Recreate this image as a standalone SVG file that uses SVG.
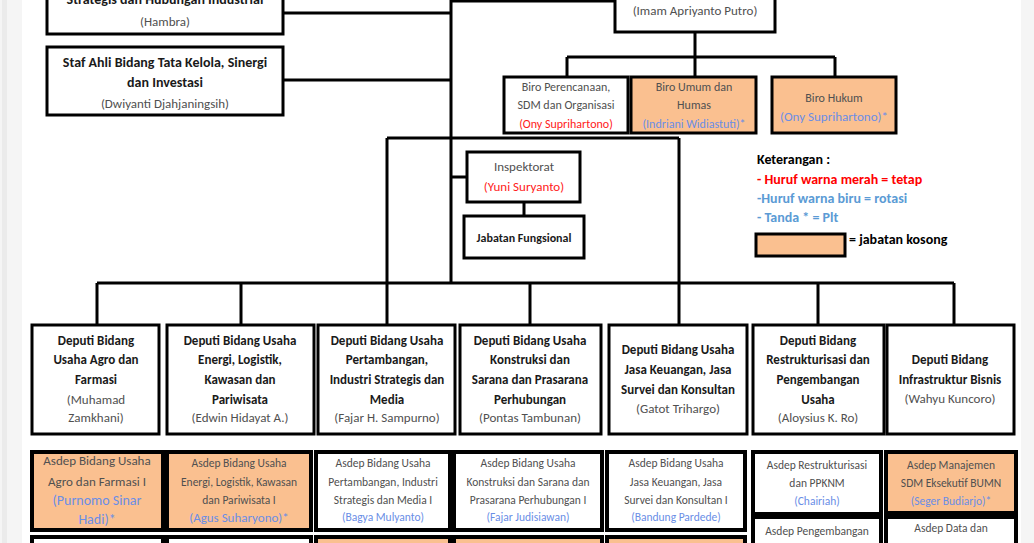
<svg xmlns="http://www.w3.org/2000/svg" width="1034" height="543" viewBox="0 0 1034 543" xml:space="preserve">
<style>
.box{fill:#fff;stroke:#000;stroke-width:3}
.ab{stroke-width:4}
.org{fill:#FAC090}
.t{font-family:Carlito,Lato,"Liberation Sans",sans-serif;text-anchor:middle}
.b{font-weight:bold;fill:#1a1a1a}
.g{fill:#505050}
.r{fill:#ff1a1a}
.u{fill:#6a8ee6}
.s12{font-size:12px}
.s13{font-size:13px}
.s11{font-size:11.5px}
.lg{font-family:Carlito,Lato,"Liberation Sans",sans-serif;font-size:14px;font-weight:bold}
.ln{fill:none;stroke:#000;stroke-width:3}
</style>
<rect x="0" y="0" width="1034" height="543" fill="#fff"/>
<rect x="0" y="0" width="22" height="543" fill="#f5f5f5"/>
<rect x="2" y="0" width="5" height="543" fill="#ebebeb"/>
<rect x="1021" y="0" width="13" height="543" fill="#f5f5f5"/>
<g id="connectors" class="ln">
<path d="M451 0V283M451 1H615M284 13H451M283 80H451"/>
<path d="M695 32V57M567 57H835M567 57V77M695 57V77M835 57V77"/>
<path d="M387 138H679M387 138V325M679 138V325M451 177H467M524 202V216"/>
<path d="M97 283H954M97 283V325M241 283V325M530 283V325M818 283V325M954 283V325"/>
</g>
<g id="staf-ahli-industri">
<rect class="box" x="47" y="-20" width="236" height="54"/>
<text class="t b" x="165" y="4" font-size="14">Strategis  dan Hubungan Industrial</text>
<text class="t g s13" x="165" y="26">(Hambra)</text>
</g>
<g id="staf-ahli-tata-kelola">
<rect class="box" x="47" y="47" width="236" height="68"/>
<text class="t b" x="165" y="67" font-size="14">Staf Ahli Bidang Tata Kelola, Sinergi</text>
<text class="t b" x="165" y="87" font-size="14">dan Investasi</text>
<text class="t g s13" x="165" y="108">(Dwiyanti Djahjaningsih)</text>
</g>
<g id="sekretaris">
<rect class="box" x="615" y="-30" width="160" height="62"/>
<text class="t g s13" x="695" y="15">(Imam Apriyanto Putro)</text>
</g>
<g id="biro-perencanaan">
<rect class="box" x="504" y="77" width="124" height="56"/>
<text class="t g s12" x="566" y="91">Biro Perencanaan,</text>
<text class="t g s12" x="566" y="109">SDM dan Organisasi</text>
<text class="t r s12" x="566" y="128">(Ony Suprihartono)</text>
</g>
<g id="biro-umum">
<rect class="box org" x="631" y="77" width="125" height="56"/>
<text class="t g s12" x="694" y="91">Biro Umum dan</text>
<text class="t g s12" x="694" y="109">Humas</text>
<text class="t u s12" x="694" y="128">(Indriani Widiastuti)*</text>
</g>
<g id="biro-hukum">
<rect class="box org" x="772" y="77" width="124" height="56"/>
<text class="t g s12" x="834" y="102">Biro Hukum</text>
<text class="t u s13" x="834" y="121">(Ony Suprihartono)*</text>
</g>
<g id="inspektorat">
<rect class="box" x="467" y="152" width="113" height="50"/>
<text class="t g s13" x="524" y="171">Inspektorat</text>
<text class="t r s13" x="524" y="191">(Yuni Suryanto)</text>
</g>
<g id="jabatan-fungsional">
<rect class="box" x="464" y="216" width="120" height="42"/>
<text class="t b s12" x="524" y="242">Jabatan Fungsional</text>
</g>
<g id="legend">
<text class="lg" x="757" y="164" fill="#000">Keterangan :</text>
<text class="lg" x="757" y="184" fill="#ff0000">- Huruf warna merah = tetap</text>
<text class="lg" x="757" y="203" fill="#5b9bd5">-Huruf warna biru = rotasi</text>
<text class="lg" x="757" y="222" fill="#5b9bd5">- Tanda * = Plt</text>
<rect class="box org" x="756" y="234" width="89" height="22"/>
<text class="lg" x="849" y="244" fill="#000">= jabatan kosong</text>
</g>
<g id="deputi-agro">
<rect class="box" x="32" y="325" width="127" height="109"/>
<text class="t b s13" x="96" y="345">Deputi Bidang</text>
<text class="t b s13" x="96" y="364">Usaha Agro dan</text>
<text class="t b s13" x="96" y="384">Farmasi</text>
<text class="t g s13" x="96" y="404">(Muhamad</text>
<text class="t g s13" x="96" y="422">Zamkhani)</text>
</g>
<g id="deputi-energi">
<rect class="box" x="167" y="325" width="147" height="109"/>
<text class="t b s13" x="240" y="345">Deputi Bidang Usaha</text>
<text class="t b s13" x="240" y="364">Energi, Logistik,</text>
<text class="t b s13" x="240" y="384">Kawasan dan</text>
<text class="t b s13" x="240" y="404">Pariwisata</text>
<text class="t g s13" x="240" y="422">(Edwin  Hidayat A.)</text>
</g>
<g id="deputi-pertambangan">
<rect class="box" x="318" y="325" width="137" height="109"/>
<text class="t b s13" x="387" y="345">Deputi  Bidang Usaha</text>
<text class="t b s13" x="387" y="364">Pertambangan,</text>
<text class="t b s13" x="387" y="384">Industri Strategis dan</text>
<text class="t b s13" x="387" y="404">Media</text>
<text class="t g s13" x="387" y="422">(Fajar H. Sampurno)</text>
</g>
<g id="deputi-konstruksi">
<rect class="box" x="460" y="325" width="141" height="109"/>
<text class="t b s13" x="530" y="345">Deputi Bidang Usaha</text>
<text class="t b s13" x="530" y="364">Konstruksi dan</text>
<text class="t b s13" x="530" y="384">Sarana dan Prasarana</text>
<text class="t b s13" x="530" y="404">Perhubungan</text>
<text class="t g s13" x="530" y="422">(Pontas  Tambunan)</text>
</g>
<g id="deputi-jasa">
<rect class="box" x="609" y="325" width="138" height="109"/>
<text class="t b s13" x="678" y="354">Deputi Bidang Usaha</text>
<text class="t b s13" x="678" y="374">Jasa Keuangan, Jasa</text>
<text class="t b s13" x="678" y="394">Survei dan Konsultan</text>
<text class="t g s13" x="678" y="413">(Gatot Trihargo)</text>
</g>
<g id="deputi-restrukturisasi">
<rect class="box" x="753" y="325" width="131" height="109"/>
<text class="t b s13" x="818" y="345">Deputi Bidang</text>
<text class="t b s13" x="818" y="364">Restrukturisasi dan</text>
<text class="t b s13" x="818" y="384">Pengembangan</text>
<text class="t b s13" x="818" y="404">Usaha</text>
<text class="t g s13" x="818" y="422">(Aloysius  K. Ro)</text>
</g>
<g id="deputi-infrastruktur">
<rect class="box" x="887" y="325" width="127" height="109"/>
<text class="t b s13" x="950" y="364">Deputi Bidang</text>
<text class="t b s13" x="950" y="384">Infrastruktur Bisnis</text>
<text class="t g s13" x="950" y="403">(Wahyu  Kuncoro)</text>
</g>
<g id="asdep-agro-1">
<rect class="box ab org" x="32" y="452" width="131" height="78"/>
<text class="t g s13" x="97" y="465">Asdep  Bidang Usaha</text>
<text class="t g s13" x="97" y="486">Agro dan Farmasi I</text>
<text class="t u" x="97" y="505" font-size="14">(Purnomo  Sinar</text>
<text class="t u" x="97" y="524" font-size="14">Hadi)*</text>
</g>
<g id="asdep-energi-1">
<rect class="box ab org" x="167" y="452" width="144" height="78"/>
<text class="t g s11" x="239" y="467">Asdep Bidang Usaha</text>
<text class="t g s11" x="239" y="486">Energi, Logistik, Kawasan</text>
<text class="t g s11" x="239" y="504">dan Pariwisata I</text>
<text class="t u s13" x="239" y="522">(Agus Suharyono)*</text>
</g>
<g id="asdep-pertambangan-1">
<rect class="box ab" x="316" y="452" width="134" height="78"/>
<text class="t g s11" x="383" y="467">Asdep Bidang Usaha</text>
<text class="t g s11" x="383" y="486">Pertambangan, Industri</text>
<text class="t g s11" x="383" y="504">Strategis dan Media I</text>
<text class="t u s11" x="383" y="521">(Bagya Mulyanto)</text>
</g>
<g id="asdep-konstruksi-1">
<rect class="box ab" x="454" y="452" width="148" height="78"/>
<text class="t g s11" x="528" y="467">Asdep Bidang Usaha</text>
<text class="t g s11" x="528" y="486">Konstruksi dan Sarana dan</text>
<text class="t g s11" x="528" y="504">Prasarana Perhubungan I</text>
<text class="t u s11" x="528" y="521">(Fajar Judisiawan)</text>
</g>
<g id="asdep-jasa-1">
<rect class="box ab" x="607" y="452" width="138" height="78"/>
<text class="t g s11" x="676" y="467">Asdep Bidang Usaha</text>
<text class="t g s11" x="676" y="486">Jasa Keuangan, Jasa</text>
<text class="t g s11" x="676" y="504">Survei dan Konsultan I</text>
<text class="t u s11" x="676" y="521">(Bandung Pardede)</text>
</g>
<g id="asdep-restrukturisasi">
<rect class="box ab" x="753" y="452" width="128" height="62"/>
<text class="t g s11" x="817" y="469">Asdep Restrukturisasi</text>
<text class="t g s11" x="817" y="487">dan PPKNM</text>
<text class="t u s11" x="817" y="505">(Chairiah)</text>
</g>
<g id="asdep-sdm">
<rect class="box ab org" x="886" y="452" width="130" height="61"/>
<text class="t g s11" x="951" y="469">Asdep Manajemen</text>
<text class="t g s11" x="951" y="487">SDM  Eksekutif BUMN</text>
<text class="t u s11" x="951" y="505">(Seger Budiarjo)*</text>
</g>
<g id="asdep-pengembangan">
<rect class="box ab" x="753" y="517" width="128" height="40"/>
<text class="t g s11" x="817" y="535">Asdep Pengembangan</text>
</g>
<g id="asdep-data">
<rect class="box ab" x="886" y="517" width="130" height="40"/>
<text class="t g s11" x="951" y="532">Asdep Data dan</text>
</g>
<g id="asdep-agro-2"><rect class="box ab" x="32" y="537" width="131" height="20"/></g>
<g id="asdep-energi-2"><rect class="box ab" x="167" y="537" width="144" height="20"/></g>
<g id="asdep-pertambangan-2"><rect class="box ab org" x="316" y="537" width="134" height="20"/></g>
<g id="asdep-konstruksi-2"><rect class="box ab org" x="454" y="537" width="148" height="20"/></g>
<g id="asdep-jasa-2"><rect class="box ab org" x="607" y="537" width="138" height="20"/></g>
</svg>
